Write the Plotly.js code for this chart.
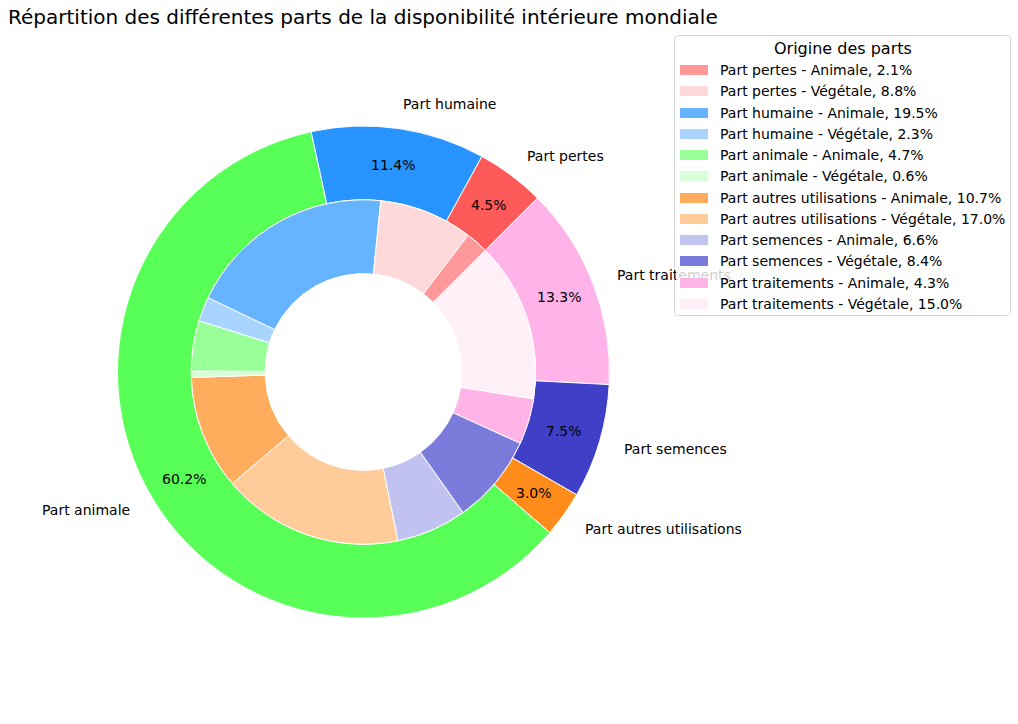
<!DOCTYPE html>
<html>
<head>
<meta charset="utf-8">
<script src="https://cdn.plot.ly/plotly-3.0.1.min.js"></script>
<style>
  html, body { margin: 0; padding: 0; background: #ffffff; }
  #chart { width: 1018px; height: 724px; }
</style>
</head>
<body>
<div id="chart"></div>
<script>
// Outer ring: share of each use in world domestic supply (%)
const outerLabels = ['Part pertes', 'Part humaine', 'Part animale', 'Part autres utilisations', 'Part semences', 'Part traitements'];
const outerValues = [4.5, 11.4, 60.2, 3.0, 7.5, 13.3];
const outerColors = ['#ff5a5a', '#2894ff', '#57ff57', '#ff8c1a', '#3f3fc8', '#ffb3e8'];

// Inner ring: each use split by origin (animal / vegetal), in %
const innerLabels = [
  'Part pertes - Animale', 'Part pertes - Végétale',
  'Part humaine - Animale', 'Part humaine - Végétale',
  'Part animale - Animale', 'Part animale - Végétale',
  'Part autres utilisations - Animale', 'Part autres utilisations - Végétale',
  'Part semences - Animale', 'Part semences - Végétale',
  'Part traitements - Animale', 'Part traitements - Végétale'
];
const innerValues = [2.1, 8.8, 19.5, 2.3, 4.7, 0.6, 10.7, 17.0, 6.6, 8.4, 4.3, 15.0];
const innerColors = [
  '#ff9999', '#ffd9d9',
  '#66b3ff', '#a8d4ff',
  '#99ff99', '#d9ffd9',
  '#ffad5c', '#ffcc99',
  '#c2c2f0', '#7b7bdb',
  '#ffb3e6', '#fff0f8'
];

const titleText = 'Répartition des différentes parts de la disponibilité intérieure mondiale';
const legendTitle = 'Origine des parts';

// ---- geometry (pixels) ----
const W = 1018, H = 724;
const FONT = 'DejaVu Sans, Liberation Sans, sans-serif';
const cx = 363.5, cy = 372, R = 246;   // pie centre and outer radius
const ringWidth = 0.3;                 // width of each ring, fraction of R
const startAngle = 45;                 // degrees, counter-clockwise from 3 o'clock
const labelDistance = 1.1, pctDistance = 0.85;

const px = x => x / W;
const py = y => 1 - y / H;
const domainFor = r => ({
  x: [px(cx - r), px(cx + r)],
  y: [py(cy + r), py(cy - r)]
});

const rOuter = R, rInner = R * (1 - ringWidth);
const rev = a => a.slice().reverse();

// Slices are listed in reverse and drawn clockwise so that the sequence
// runs counter-clockwise from startAngle.
const outerTrace = {
  type: 'pie',
  labels: rev(outerLabels),
  values: rev(outerValues),
  marker: { colors: rev(outerColors), line: { color: '#ffffff', width: 1 } },
  hole: 1 - ringWidth,
  sort: false,
  direction: 'clockwise',
  rotation: 90 - startAngle,
  textinfo: 'none',
  hoverinfo: 'label+value',
  showlegend: false,
  domain: domainFor(rOuter)
};

const innerTrace = {
  type: 'pie',
  labels: rev(innerLabels),
  values: rev(innerValues),
  marker: { colors: rev(innerColors), line: { color: '#ffffff', width: 1 } },
  hole: (1 - 2 * ringWidth) / (1 - ringWidth),
  sort: false,
  direction: 'clockwise',
  rotation: 90 - startAngle,
  textinfo: 'none',
  hoverinfo: 'label+value',
  showlegend: false,
  domain: domainFor(rInner)
};

const annotations = [];

// Outer labels and percentages, placed at the middle angle of each slice
const outerTotal = outerValues.reduce((a, b) => a + b, 0);
let cum = 0;
outerValues.forEach((v, i) => {
  const mid = (startAngle + 360 * (cum + v / 2) / outerTotal) * Math.PI / 180;
  cum += v;
  const c = Math.cos(mid), s = Math.sin(mid);
  annotations.push({
    xref: 'paper', yref: 'paper',
    x: px(cx + labelDistance * R * c), y: py(cy - labelDistance * R * s),
    xanchor: c > 0 ? 'left' : 'right', yanchor: 'middle',
    text: outerLabels[i], showarrow: false, borderpad: 0,
    font: { family: FONT, size: 14, color: '#000000' }
  });
  annotations.push({
    xref: 'paper', yref: 'paper',
    x: px(cx + pctDistance * R * c), y: py(cy - pctDistance * R * s),
    xanchor: 'center', yanchor: 'middle',
    text: v.toFixed(1) + '%', showarrow: false, borderpad: 0,
    font: { family: FONT, size: 14, color: '#000000' }
  });
});

// Legend: rounded frame outline, then a semi-transparent fill drawn above the labels
const lgLeft = 674.5, lgRight = 1010.5, lgTop = 35.5, lgBottom = 315.5, rc = 4;
const framePath =
  `M${px(lgLeft + rc)},${py(lgTop)} L${px(lgRight - rc)},${py(lgTop)} ` +
  `Q${px(lgRight)},${py(lgTop)} ${px(lgRight)},${py(lgTop + rc)} ` +
  `L${px(lgRight)},${py(lgBottom - rc)} ` +
  `Q${px(lgRight)},${py(lgBottom)} ${px(lgRight - rc)},${py(lgBottom)} ` +
  `L${px(lgLeft + rc)},${py(lgBottom)} ` +
  `Q${px(lgLeft)},${py(lgBottom)} ${px(lgLeft)},${py(lgBottom - rc)} ` +
  `L${px(lgLeft)},${py(lgTop + rc)} ` +
  `Q${px(lgLeft)},${py(lgTop)} ${px(lgLeft + rc)},${py(lgTop)} Z`;
const shapes = [{
  type: 'path', xref: 'paper', yref: 'paper', layer: 'above',
  path: framePath, line: { color: '#d6d6d6', width: 1 }, fillcolor: 'rgba(0,0,0,0)'
}];

annotations.push({
  xref: 'paper', yref: 'paper',
  x: px((lgLeft + lgRight) / 2), y: py((lgTop + lgBottom) / 2),
  xanchor: 'center', yanchor: 'middle',
  width: lgRight - lgLeft - 2, height: lgBottom - lgTop - 2,
  text: ' ', showarrow: false, borderpad: 0, borderwidth: 0,
  bgcolor: 'rgba(255,255,255,0.8)'
});
annotations.push({
  xref: 'paper', yref: 'paper',
  x: px((lgLeft + lgRight) / 2), y: py(48.5),
  xanchor: 'center', yanchor: 'middle',
  text: legendTitle, showarrow: false, borderpad: 0,
  font: { family: FONT, size: 16, color: '#000000' }
});
const rowStart = 70, rowStep = 21.27;
innerLabels.forEach((lab, i) => {
  const yRow = rowStart + i * rowStep;
  annotations.push({
    xref: 'paper', yref: 'paper',
    x: px(680), y: py(yRow), xanchor: 'left', yanchor: 'middle',
    width: 28, height: 10, text: ' ', showarrow: false,
    borderpad: 0, borderwidth: 0, bgcolor: innerColors[i]
  });
  annotations.push({
    xref: 'paper', yref: 'paper',
    x: px(719), y: py(yRow), xanchor: 'left', yanchor: 'middle',
    text: lab + ', ' + innerValues[i].toFixed(1) + '%', showarrow: false, borderpad: 0,
    font: { family: FONT, size: 14, color: '#000000' }
  });
});

const layout = {
  width: W, height: H,
  margin: { l: 0, r: 0, t: 0, b: 0 },
  paper_bgcolor: '#ffffff',
  plot_bgcolor: '#ffffff',
  showlegend: false,
  title: {
    text: titleText,
    x: px(8), xanchor: 'left',
    y: py(17), yanchor: 'middle',
    font: { family: FONT, size: 20, color: '#000000' }
  },
  shapes: shapes,
  annotations: annotations
};

Plotly.newPlot('chart', [outerTrace, innerTrace], layout, { displayModeBar: false, staticPlot: true });
</script>
</body>
</html>
